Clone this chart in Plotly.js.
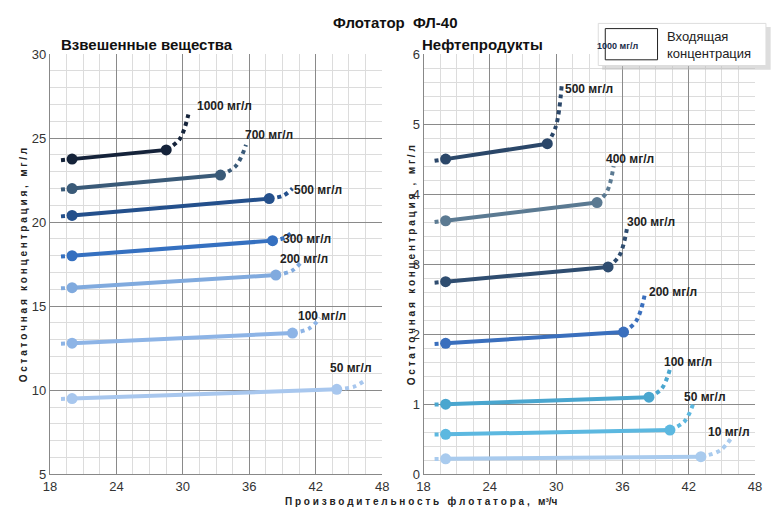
<!DOCTYPE html>
<html><head><meta charset="utf-8">
<script src="https://cdn.plot.ly/plotly-3.0.1.min.js"></script>
<style>body{margin:0}#c{width:780px;height:520px}</style></head>
<body><div id="c"></div>
<script>
// Left panel: suspended solids
const L_labels = ['1000 мг/л','700 мг/л','500 мг/л','300 мг/л','200 мг/л','100 мг/л','50 мг/л'];
const L_x0 = [20,20,20,20,20,20,20];
const L_y0 = [23.75,22.0,20.4,18.0,16.1,12.8,9.5];
const L_x1 = [28.5,33.4,37.8,38.1,38.4,39.9,43.9];
const L_y1 = [24.3,22.8,21.4,18.9,16.85,13.4,10.05];
const L_x2 = [30.5,35.7,39.9,40.0,40.8,42.4,46.5];
const L_y2 = [26.4,24.6,22.0,19.5,17.7,14.3,10.6];
const L_lx = [33.8,37.8,42.2,41.2,40.9,42.6,45.2];
const L_ly = [26.9,25.2,21.9,19.0,17.8,14.4,11.3];
const L_col = ['#15233a','#3a5a78','#24508c','#3570c0','#80aade','#8db4e6','#a8c7ee'];
// Right panel: oil products
const R_labels = ['500 мг/л','400 мг/л','300 мг/л','200 мг/л','100 мг/л','50 мг/л','10 мг/л'];
const R_x0 = [20,20,20,20,20,20,20];
const R_y0 = [4.5,3.62,2.75,1.87,1.0,0.57,0.22];
const R_x1 = [29.2,33.7,34.7,36.1,38.4,40.3,43.1];
const R_y1 = [4.72,3.88,2.96,2.03,1.1,0.63,0.25];
const R_x2 = [30.5,35.2,36.4,38.0,40.3,42.5,46.0];
const R_y2 = [5.55,4.4,3.5,2.55,1.5,1.05,0.55];
const R_lx = [33.0,36.7,38.6,40.6,41.9,43.5,45.6];
const R_ly = [5.5,4.5,3.6,2.6,1.6,1.1,0.6];
const R_col = ['#2b4769','#5b7a92','#2f4d70','#3a6fbd','#4aa6cf','#5cb8e0','#a9cbee'];

const traces = [];
const anns = [];
function build(xs0,ys0,xs1,ys1,xs2,ys2,lx,ly,labs,cols,xa,ya){
  for(let i=0;i<labs.length;i++){
    const c=cols[i];
    traces.push({x:[xs0[i]-1,xs0[i]],y:[ys0[i]-(ys1[i]-ys0[i])/(xs1[i]-xs0[i]),ys0[i]],xaxis:xa,yaxis:ya,mode:'lines',line:{color:c,width:4,dash:'dot'},hoverinfo:'skip'});
    const mx=xs1[i]+0.6*(xs2[i]-xs1[i]), my=ys1[i]+0.3*(ys2[i]-ys1[i]);
    traces.push({x:[xs1[i],mx,xs2[i]],y:[ys1[i],my,ys2[i]],xaxis:xa,yaxis:ya,mode:'lines',line:{color:c,width:4,dash:'dot',shape:'spline'},hoverinfo:'skip'});
    traces.push({x:[xs0[i],xs1[i]],y:[ys0[i],ys1[i]],xaxis:xa,yaxis:ya,mode:'lines+markers',line:{color:c,width:4},marker:{size:11,color:c}});
    anns.push({x:lx[i],y:ly[i],xref:xa,yref:ya,text:'<b>'+labs[i]+'</b>',showarrow:false,font:{family:'Arial, Liberation Sans',size:12,color:'#222'},xanchor:'center',yanchor:'middle'});
  }
}
build(L_x0,L_y0,L_x1,L_y1,L_x2,L_y2,L_lx,L_ly,L_labels,L_col,'x','y');
build(R_x0,R_y0,R_x1,R_y1,R_x2,R_y2,R_lx,R_ly,R_labels,R_col,'x2','y2');

const tf={family:'Arial, Liberation Sans',size:13,color:'#333'};
function xax(dom){return {domain:dom,range:[18,48],tickvals:[18,24,30,36,42,48],gridcolor:'#8a8a8a',gridwidth:1,
  minor:{dtick:1.5,tick0:18,showgrid:true,gridcolor:'#dcdcdc'},zeroline:false,showline:true,linecolor:'#888',tickfont:tf,ticks:''};}
const layout={width:780,height:520,margin:{l:0,r:0,t:0,b:0},showlegend:false,plot_bgcolor:'#fff',paper_bgcolor:'#fff',
 xaxis:xax([0.064,0.49]), xaxis2:xax([0.543,0.968]),
 yaxis:{domain:[0.088,0.896],range:[5,30],dtick:5,gridcolor:'#8a8a8a',minor:{dtick:1,showgrid:true,gridcolor:'#dcdcdc'},zeroline:false,showline:true,linecolor:'#888',tickfont:tf,anchor:'x'},
 yaxis2:{domain:[0.088,0.896],range:[0,6],dtick:1,gridcolor:'#8a8a8a',minor:{dtick:0.2,showgrid:true,gridcolor:'#dcdcdc'},zeroline:false,showline:true,linecolor:'#888',tickfont:tf,anchor:'x2'},
 annotations:anns.concat([
  {text:'<b>Флотатор  ФЛ-40</b>',x:0.507,y:0.977,xref:'paper',yref:'paper',showarrow:false,font:{family:'Arial, Liberation Sans',size:15,color:'#111'}},
  {text:'<b>Взвешенные вещества</b>',x:0.075,y:0.915,xref:'paper',yref:'paper',xanchor:'left',yanchor:'middle',showarrow:false,font:{family:'Arial, Liberation Sans',size:15,color:'#111'}},
  {text:'<b>Нефтепродукты</b>',x:0.538,y:0.915,xref:'paper',yref:'paper',xanchor:'left',yanchor:'middle',showarrow:false,font:{family:'Arial, Liberation Sans',size:15,color:'#111'}},
  {text:'<b>О с т а т о ч н а я   к о н ц е н т р а ц и я ,   м г / л</b>',x:0.02,y:0.49,xref:'paper',yref:'paper',textangle:-90,showarrow:false,font:{family:'Arial, Liberation Sans',size:10,color:'#222'}},
  {text:'<b>О с т а т о ч н а я   к о н ц е н т р а ц и я   ,   м г / л</b>',x:0.527,y:0.49,xref:'paper',yref:'paper',textangle:-90,showarrow:false,font:{family:'Arial, Liberation Sans',size:10,color:'#222'}},
  {text:'<b>П р о и з в о д и т е л ь н о с т ь   ф л о т а т о р а ,   м³/ч</b>',x:0.54,y:0.022,xref:'paper',yref:'paper',showarrow:false,font:{family:'Arial, Liberation Sans',size:10,color:'#222'}},
  {text:'<b>1000 мг/л</b>',x:0.82,y:0.925,xref:'paper',yref:'paper',showarrow:false,font:{family:'Arial, Liberation Sans',size:9,color:'#1a2d4a'}},
  {text:'Входящая<br>концентрация',x:0.852,y:0.948,xref:'paper',yref:'paper',xanchor:'left',align:'left',showarrow:false,font:{family:'Arial, Liberation Sans',size:13,color:'#222'}}
 ]),
 shapes:[
  {type:'rect',xref:'paper',yref:'paper',x0:0.772,x1:0.988,y0:0.866,y1:0.948,fillcolor:'#bbb',line:{width:0},opacity:0.5},
  {type:'rect',xref:'paper',yref:'paper',x0:0.767,x1:0.982,y0:0.874,y1:0.955,fillcolor:'#fff',line:{color:'#ddd',width:1}},
  {type:'rect',xref:'paper',yref:'paper',x0:0.776,x1:0.843,y0:0.885,y1:0.945,fillcolor:'#fff',line:{color:'#222',width:1}}
 ]};
Plotly.newPlot('c',traces,layout,{displayModeBar:false});
</script></body></html>
